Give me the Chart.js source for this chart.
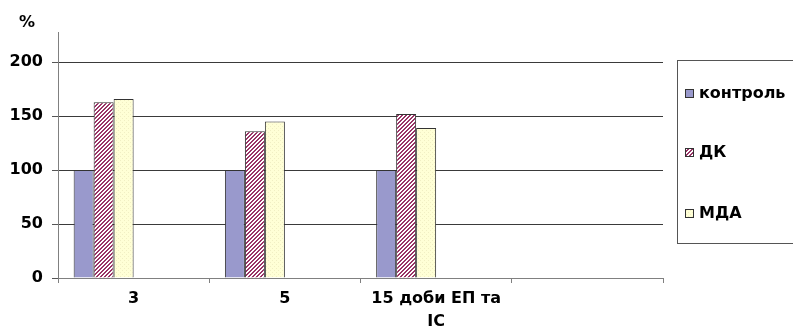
<!DOCTYPE html>
<html>
<head>
<meta charset="utf-8">
<script src="https://cdn.jsdelivr.net/npm/chart.js@4/dist/chart.umd.min.js"></script>
<style>
  html, body { margin: 0; padding: 0; background: #fff; }
  #wrap { width: 793px; height: 331px; }
</style>
</head>
<body>
<div id="wrap"><canvas id="c" width="793" height="331"></canvas></div>
<script>
// Days after exposure (the last slot is left empty)
const categories = ['3', '5', ['15 доби ЕП та', 'ІС'], ''];
// Levels relative to control, %
const kontrol = [100, 100, 100, null];
const dk = [163, 136, 152, null];
const mda = [166, 145, 139, null];
const seriesNames = ['контроль', 'ДК', 'МДА'];
const yTicks = [0, 50, 100, 150, 200];

const FONT = '"DejaVu Sans", sans-serif';

// Fill patterns
function hatchPattern() {
  const t = document.createElement('canvas');
  t.width = 4; t.height = 4;
  const g = t.getContext('2d');
  g.fillStyle = '#ffffff';
  g.fillRect(0, 0, 4, 4);
  g.fillStyle = '#993366';
  for (let y = 0; y < 4; y++)
    for (let x = 0; x < 4; x++)
      if ((x + y) % 4 < 2) g.fillRect(x, y, 1, 1);
  return g.createPattern(t, 'repeat');
}
function dotPattern() {
  const t = document.createElement('canvas');
  t.width = 4; t.height = 4;
  const g = t.getContext('2d');
  g.fillStyle = '#ffffd6';
  g.fillRect(0, 0, 4, 4);
  g.fillStyle = '#f1efc4';
  g.fillRect(0, 0, 1, 1);
  g.fillRect(2, 2, 1, 1);
  return g.createPattern(t, 'repeat');
}

const fills = ['#9999cc', hatchPattern(), dotPattern()];
const values = [kontrol, dk, mda];

const datasets = values.map((v, i) => ({
  label: seriesNames[i],
  data: v,
  backgroundColor: fills[i],
  borderColor: '#333333',
  borderWidth: 1,
  inLegend: true
}));
// empty spacer slots that keep each group at the left of its category
for (let k = 0; k < 3; k++) {
  datasets.push({ label: '', data: categories.map(() => null), inLegend: false });
}

// boxed legend on the right
const boxLegend = {
  id: 'boxLegend',
  afterDraw(chart) {
    const ctx = chart.ctx;
    const a = chart.chartArea;
    const left = a.right + 14;
    const top = 60, bottom = 243;
    ctx.save();
    ctx.strokeStyle = '#555555';
    ctx.lineWidth = 1;
    ctx.strokeRect(left + 0.5, top + 0.5, chart.width - left + 5, bottom - top);
    const items = chart.data.datasets.filter(d => d.inLegend);
    const rowY = [93, 152, 213];
    ctx.font = 'bold 16px ' + FONT;
    ctx.textBaseline = 'middle';
    items.forEach((d, i) => {
      const y = rowY[i];
      ctx.fillStyle = d.backgroundColor;
      ctx.fillRect(left + 8, y - 4, 9, 9);
      ctx.strokeStyle = '#333333';
      ctx.strokeRect(left + 8.5, y - 3.5, 8, 8);
      ctx.fillStyle = '#000';
      ctx.fillText(d.label, left + 22, y + 1);
    });
    ctx.restore();
  }
};

// unit label above the value axis
const unitLabel = {
  id: 'unitLabel',
  afterDraw(chart) {
    const ctx = chart.ctx;
    const s = chart.scales.y;
    ctx.save();
    ctx.font = 'bold 16px ' + FONT;
    ctx.fillStyle = '#000';
    ctx.textAlign = 'center';
    ctx.textBaseline = 'middle';
    ctx.fillText('%', s.right - 31, 23);
    ctx.restore();
  }
};

new Chart(document.getElementById('c'), {
  type: 'bar',
  data: { labels: categories, datasets },
  options: {
    responsive: false,
    animation: false,
    layout: { padding: { top: 32, right: 130, left: 0, bottom: 0 } },
    datasets: { bar: { barPercentage: 1, categoryPercentage: 0.793 } },
    plugins: { legend: { display: false }, tooltip: { enabled: false } },
    scales: {
      x: {
        offset: true,
        grid: { display: true, offset: true, drawOnChartArea: false, drawTicks: true, tickLength: 5, tickColor: '#808080' },
        border: { color: '#808080', width: 1 },
        ticks: { color: '#000', font: { family: FONT, size: 16, weight: 'bold', lineHeight: 1.4 }, padding: 5, maxRotation: 0, autoSkip: false },
        afterFit(s) { s.height = 53; }
      },
      y: {
        min: 0,
        max: 228,
        afterBuildTicks(s) { s.ticks = yTicks.map(v => ({ value: v })); },
        grid: { color: '#3a3a3a', tickColor: '#555555', tickLength: 6 },
        border: { color: '#808080', width: 1 },
        ticks: { color: '#000', font: { family: FONT, size: 16, weight: 'bold' }, padding: 9 },
        afterFit(s) { s.width = 58; }
      }
    }
  },
  plugins: [boxLegend, unitLabel]
});
</script>
</body>
</html>
